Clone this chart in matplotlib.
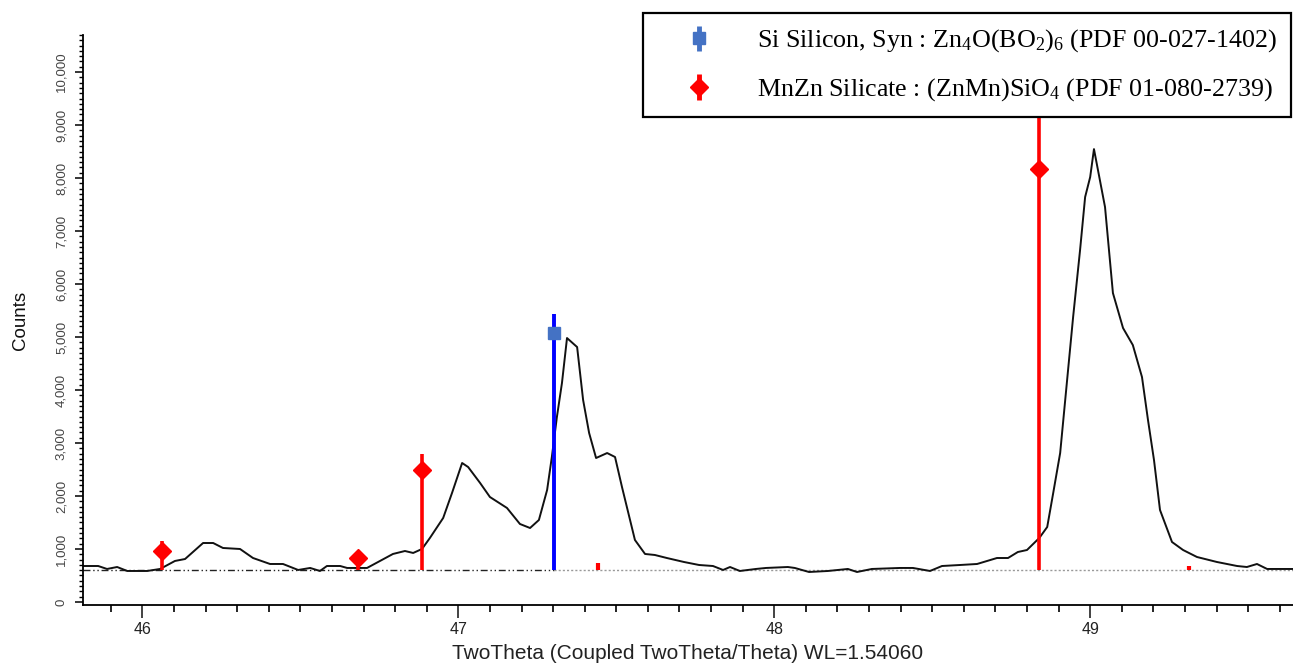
import matplotlib
matplotlib.use("Agg")
import matplotlib.pyplot as plt
from matplotlib.lines import Line2D
from matplotlib.legend_handler import HandlerTuple
from matplotlib.ticker import MultipleLocator, FuncFormatter

# Measured diffraction pattern (2-theta in degrees, intensity in counts)
two_theta = [45.812, 45.860, 45.888, 45.920, 45.952, 46.015, 46.056, 46.103, 46.135,
             46.192, 46.224, 46.255, 46.309, 46.350, 46.404, 46.445, 46.493, 46.531,
             46.562, 46.584, 46.626, 46.648, 46.679, 46.711, 46.752, 46.793, 46.831,
             46.857, 46.885, 46.910, 46.952, 46.980, 47.012, 47.031, 47.069, 47.100,
             47.154, 47.195, 47.227, 47.255, 47.281, 47.296, 47.312, 47.328, 47.344,
             47.376, 47.395, 47.414, 47.436, 47.471, 47.496, 47.518, 47.559, 47.591,
             47.622, 47.660, 47.714, 47.762, 47.806, 47.838, 47.860, 47.891, 47.942,
             47.974, 48.043, 48.065, 48.110, 48.170, 48.233, 48.262, 48.309, 48.398,
             48.439, 48.493, 48.531, 48.588, 48.642, 48.705, 48.740, 48.771, 48.800,
             48.839, 48.864, 48.883, 48.905, 48.927, 48.946, 48.968, 48.984, 49.000,
             49.012, 49.047, 49.072, 49.104, 49.135, 49.164, 49.183, 49.202, 49.221,
             49.259, 49.294, 49.338, 49.401, 49.465, 49.496, 49.528, 49.560, 49.642]
counts = [679, 679, 623, 660, 585, 585, 623, 774, 811,
          1113, 1113, 1019, 1000, 830, 717, 717, 604, 642,
          585, 679, 679, 642, 642, 642, 774, 906, 962,
          925, 1000, 1208, 1585, 2057, 2623, 2547, 2245, 1981,
          1774, 1472, 1396, 1547, 2113, 2736, 3491, 4132, 4981,
          4811, 3811, 3189, 2717, 2811, 2736, 2170, 1170, 906,
          887, 830, 755, 698, 679, 604, 660, 585, 623,
          642, 660, 642, 566, 585, 623, 566, 623, 642,
          642, 585, 679, 698, 717, 830, 830, 943, 981,
          1208, 1415, 2057, 2811, 4189, 5377, 6642, 7642, 8019,
          8547, 7453, 5830, 5170, 4849, 4245, 3434, 2679, 1736,
          1132, 981, 849, 755, 679, 660, 717, 623, 623]

# Reference patterns (stick positions, marker intensity, stick top)
baseline = 600
si_pos = [47.303]
si_marker = [5075]
si_top = [5434]

mnzn_pos = [46.063, 46.682, 46.884, 48.838]
mnzn_marker = [962, 830, 2491, 8170]
mnzn_top = [1151, 943, 2792, 9800]

mnzn_minor_pos = [47.442, 49.313]
mnzn_minor_top = [736, 679]

x_range = (45.811, 49.642)
y_range = (-57, 10700)

si_label = r"Si Silicon, Syn : Zn$_4$O(BO$_2$)$_6$ (PDF 00-027-1402)"
mnzn_label = r"MnZn Silicate : (ZnMn)SiO$_4$ (PDF 01-080-2739)"
x_label = "TwoTheta (Coupled TwoTheta/Theta) WL=1.54060"
y_label = "Counts"

plt.rcParams["font.family"] = ["Liberation Sans", "DejaVu Sans"]
plt.rcParams["mathtext.fontset"] = "custom"
plt.rcParams["mathtext.rm"] = "Liberation Serif"
plt.rcParams["mathtext.it"] = "Liberation Serif:italic"

fig = plt.figure(figsize=(12.93, 6.63), dpi=100)
ax = fig.add_axes([82.7 / 1293, 1 - 605 / 663, 1 - 82.7 / 1293, (605 - 35) / 663])

# baselines of the reference patterns
ax.hlines(baseline, x_range[0], si_pos[0], colors="#222222", lw=1.0,
          linestyles=(0, (5, 2, 1, 2, 1, 2)), zorder=1)
ax.hlines(baseline, si_pos[0], x_range[1], colors="#999999", lw=1.0,
          linestyles=(0, (1.5, 1.5)), zorder=1)

# measured pattern
ax.plot(two_theta, counts, color="#111111", lw=1.4, zorder=2)

# reference sticks
ax.vlines(mnzn_pos, baseline, mnzn_top, colors="#FF0000", lw=2.6, zorder=3)
ax.vlines(mnzn_minor_pos, baseline, mnzn_minor_top, colors="#FF0000", lw=3.0, zorder=3)
ax.vlines(si_pos, baseline, si_top, colors="#0000FF", lw=2.8, zorder=3)
ax.plot(mnzn_pos, mnzn_marker, ls="none", marker="D", ms=9, color="#FF0000", zorder=4)
ax.plot(si_pos, si_marker, ls="none", marker="s", ms=8.5, color="#4472C4", zorder=4)

ax.set_xlim(*x_range)
ax.set_ylim(*y_range)

for side in ("top", "right"):
    ax.spines[side].set_visible(False)
for side in ("left", "bottom"):
    ax.spines[side].set_linewidth(1.3)

ax.xaxis.set_major_locator(MultipleLocator(1))
ax.xaxis.set_minor_locator(MultipleLocator(0.1))
ax.yaxis.set_major_locator(MultipleLocator(1000))
ax.yaxis.set_minor_locator(MultipleLocator(100))
ax.yaxis.set_major_formatter(FuncFormatter(lambda v, p: f"{int(round(v)):,}"))
ax.xaxis.set_major_formatter(FuncFormatter(lambda v, p: f"{int(round(v))}"))

ax.tick_params(axis="x", which="major", length=9.5, width=1.2, labelsize=11.5,
               pad=2.5, colors="#222222")
ax.tick_params(axis="x", which="minor", length=5, width=1.2)
ax.tick_params(axis="y", which="major", length=6, width=1.1, labelsize=9.5,
               pad=5, labelcolor="#444444")
ax.tick_params(axis="y", which="minor", length=3, width=1.0)
for lbl in ax.get_yticklabels():
    lbl.set_rotation(90)
    lbl.set_va("center")

ax.set_xlabel(x_label, fontsize=15, color="#222222", labelpad=5)
ax.set_ylabel(y_label, fontsize=13.5, color="#111111", labelpad=19)

si_handle = (Line2D([], [], ls="none", marker="|", ms=18, mew=3.5, color="#4472C4"),
             Line2D([], [], ls="none", marker="s", ms=8, color="#4472C4"))
mnzn_handle = (Line2D([], [], ls="none", marker="|", ms=19, mew=3.5, color="#FF0000"),
               Line2D([], [], ls="none", marker="D", ms=9, color="#FF0000"))

leg = ax.legend([si_handle, mnzn_handle], [si_label, mnzn_label],
                handler_map={tuple: HandlerTuple(ndivide=1)},
                loc="upper right", bbox_to_anchor=(1291 / 1293, 1 - 13 / 663),
                bbox_transform=fig.transFigure, borderaxespad=0,
                prop={"family": "Liberation Serif", "size": 18.7},
                fancybox=False, framealpha=1, edgecolor="black",
                borderpad=0.55, handlelength=3.2, handletextpad=0.65,
                labelspacing=0.85)
leg.get_frame().set_linewidth(1.6)
leg.set_zorder(10)

fig.savefig("out.png", dpi=100, facecolor="white")
